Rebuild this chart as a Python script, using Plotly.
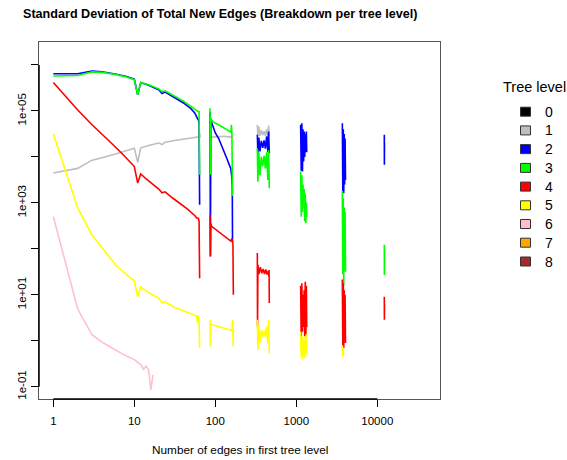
import plotly.graph_objects as go

# ---------------- data ----------------
level_names = ["0", "1", "2", "3", "4", "5", "6", "7", "8"]
level_colors = ["#000000", "#BEBEBE", "#0000FF", "#00FF00", "#FF0000",
                "#FFFF00", "#FFC0CB", "#FFA500", "#A52A2A"]

x_ticks = [1, 10, 100, 1000, 10000]
x_tick_text = ["1", "10", "100", "1000", "10000"]
y_ticks = [0.1, 1, 10, 100, 1000, 1e4, 1e5, 1e6]
y_tick_text = ["1e-01", "", "1e+01", "", "1e+03", "", "1e+05", ""]

# shared x positions of the noisy clusters
seg3_x = [330, 335, 345, 355, 370, 385, 400, 415, 430, 445, 455, 464]
seg4_x = [1130, 1150, 1170, 1190, 1210, 1230, 1250, 1270, 1290, 1310, 1330, 1345]
seg5_x = [3700, 3750, 3800, 3850, 3900, 3950, 4000, 4050]
seg6_x = [12200, 12230, 12260]

# level 1 (gray)
lvl1_seg1_x = [1, 2, 3, 4, 6, 8, 10, 11, 12, 15, 20, 22, 24, 30, 40, 50, 60, 63, 64, 65]
lvl1_seg1_y = [4470, 5620, 8510, 9550, 11700, 13500, 15500, 7590, 15800, 17800, 20000,
               18600, 20900, 22400, 24500, 26300, 26900, 27500, 33900, 26300]
lvl1_seg2_x = [86, 87, 90, 110, 130, 150, 160, 165]
lvl1_seg2_y = [56200, 28200, 26900, 27500, 28200, 26900, 28200, 27500]
lvl1_seg3_y = [50100, 28200, 45700, 28800, 38000, 29500, 36300, 28800, 39800, 28200, 47900, 28800]

# level 2 (blue)
lvl2_seg1_x = [1, 2, 3, 4, 6, 8, 10, 11, 12, 15, 20, 22, 24, 30, 40, 50, 56, 60, 62, 63, 64]
lvl2_seg1_y = [646000, 646000, 741000, 708000, 631000, 562000, 490000, 224000, 417000,
               363000, 288000, 240000, 257000, 200000, 151000, 112000, 89100, 69200,
               63100, 52500, 912]
lvl2_seg2_x = [86, 87, 88, 90, 95, 100, 110, 120, 130, 140, 150, 155, 160, 162, 163]
lvl2_seg2_y = [95500, 70.8, 63100, 56200, 39800, 33100, 25100, 17800, 12000, 8910, 6460,
               5620, 3550, 2140, 141]
lvl2_seg3_y = [30200, 12000, 26300, 13200, 22400, 15800, 22900, 15100, 28200, 12600, 35500, 12000]
lvl2_seg4_y = [50100, 5010, 53700, 4790, 39800, 7940, 35500, 10000, 31600, 12600, 35500, 12600]
lvl2_seg5_y = [53700, 1780, 39800, 1620, 31600, 2510, 25100, 3160]
lvl2_seg6_y = [30200, 6760, 20000]

# level 3 (green)
lvl3_seg1_x = [1, 2, 3, 4, 6, 8, 10, 11, 12, 15, 20, 22, 24, 30, 40, 50, 56, 60, 62, 63, 64]
lvl3_seg1_y = [575000, 589000, 708000, 692000, 617000, 550000, 479000, 224000, 417000,
               372000, 302000, 263000, 275000, 224000, 166000, 126000, 107000, 100000,
               95500, 100000, 4070]
lvl3_seg2_x = [86, 87, 88, 90, 95, 100, 110, 130, 150, 156, 158, 160, 163]
lvl3_seg2_y = [115000, 4070, 70800, 63100, 57500, 53700, 50100, 41700, 36300, 34700,
               50100, 36300, 1410]
lvl3_seg3_y = [15500, 2880, 12600, 3980, 10000, 6310, 10500, 5620, 12600, 3160, 14100, 2090]
lvl3_seg4_y = [4790, 501, 3980, 631, 2510, 794, 2000, 398, 1580, 363, 1000, 501]
lvl3_seg5_y = [1780, 28.2, 1260, 15.8, 794, 39.8, 631, 31.6]
lvl3_seg6_y = [123, 26.9, 79.4]

# level 4 (red)
lvl4_seg1_x = [1, 2, 3, 4, 5, 7, 10, 11, 12, 14, 20, 22, 24, 30, 37, 45, 56, 59, 62, 63, 64]
lvl4_seg1_y = [417000, 105000, 50100, 31600, 21400, 12000, 6170, 2690, 4270, 3310, 2000,
               1660, 1740, 1260, 977, 741, 525, 468, 457, 398, 22.9]
lvl4_seg2_x = [86, 87, 88, 90, 100, 110, 130, 144, 155, 160, 165, 167]
lvl4_seg2_y = [550, 67.6, 355, 309, 269, 234, 186, 170, 148, 166, 126, 10.0]
lvl4_seg3_x = [330, 332, 336, 345, 360, 375, 390, 405, 420, 435, 450, 458, 461, 464]
lvl4_seg3_y = [81.3, 2.04, 44.7, 28.2, 39.8, 29.5, 36.3, 28.2, 35.5, 27.5, 33.1, 25.1, 34.7, 6.61]
lvl4_seg4_y = [15.8, 1.00, 17.8, 1.58, 10.0, 2.00, 12.6, 1.26, 19.1, 0.955, 15.8, 2.00]
lvl4_seg5_y = [21.4, 0.794, 17.8, 0.692, 12.6, 1.00, 10.0, 0.891]
lvl4_seg6_y = [9.12, 2.88, 6.31]

# level 5 (yellow)
lvl5_seg1_x = [1, 2, 3, 4, 5, 6, 8, 10, 11, 12, 15, 20, 22, 24, 30, 40, 50, 59, 60, 61, 62, 63, 64]
lvl5_seg1_y = [31600, 776, 200, 105, 63.1, 42.7, 27.5, 20.0, 9.12, 14.8, 11.2, 8.51, 6.61,
               7.08, 5.50, 4.57, 3.89, 3.39, 2.51, 3.55, 2.95, 2.63, 0.708]
lvl5_seg2_x = [86, 87, 88, 90, 110, 130, 150, 160, 164, 165, 166, 167]
lvl5_seg2_y = [2.88, 0.759, 2.40, 2.24, 2.04, 1.91, 1.74, 1.66, 2.88, 1.58, 0.759, 2.00]
lvl5_seg3_y = [2.88, 0.631, 2.24, 0.891, 1.74, 1.23, 1.66, 1.20, 2.00, 0.891, 2.88, 0.537]
lvl5_seg4_y = [1.58, 0.447, 1.26, 0.389, 1.12, 0.501, 1.00, 0.417, 1.26, 0.562, 1.41, 0.501]
lvl5_seg5_y = [0.759, 0.457, 0.708, 0.501]

# level 6 (pink)
lvl6_x = [1, 2, 3, 4, 5, 6, 7, 8, 9, 10, 11, 12, 13, 14, 15, 16, 17]
lvl6_y = [501, 4.90, 1.35, 0.933, 0.741, 0.603, 0.525, 0.468, 0.427, 0.389, 0.339,
          0.302, 0.240, 0.282, 0.234, 0.0851, 0.182]


def join(pairs):
    xs, ys = [], []
    for i, (sx, sy) in enumerate(pairs):
        if i:
            xs.append(None)
            ys.append(None)
        xs += list(sx[:len(sy)])
        ys += list(sy)
    return xs, ys


series = {
    1: join([(lvl1_seg1_x, lvl1_seg1_y), (lvl1_seg2_x, lvl1_seg2_y), (seg3_x, lvl1_seg3_y)]),
    2: join([(lvl2_seg1_x, lvl2_seg1_y), (lvl2_seg2_x, lvl2_seg2_y), (seg3_x, lvl2_seg3_y),
             (seg4_x, lvl2_seg4_y), (seg5_x, lvl2_seg5_y), (seg6_x, lvl2_seg6_y)]),
    3: join([(lvl3_seg1_x, lvl3_seg1_y), (lvl3_seg2_x, lvl3_seg2_y), (seg3_x, lvl3_seg3_y),
             (seg4_x, lvl3_seg4_y), (seg5_x, lvl3_seg5_y), (seg6_x, lvl3_seg6_y)]),
    4: join([(lvl4_seg1_x, lvl4_seg1_y), (lvl4_seg2_x, lvl4_seg2_y), (lvl4_seg3_x, lvl4_seg3_y),
             (seg4_x, lvl4_seg4_y), (seg5_x, lvl4_seg5_y), (seg6_x, lvl4_seg6_y)]),
    5: join([(lvl5_seg1_x, lvl5_seg1_y), (lvl5_seg2_x, lvl5_seg2_y), (seg3_x, lvl5_seg3_y),
             (seg4_x, lvl5_seg4_y), (seg5_x, lvl5_seg5_y)]),
    6: (lvl6_x, lvl6_y),
}

# ---------------- figure ----------------
W, H = 567, 460
L, R, T, B = 39, 440, 42, 399
X_RANGE = [-0.177, 4.774]
Y_RANGE = [-1.267, 6.5]
FONT = "Liberation Sans, Arial, sans-serif"

fig = go.Figure()
for lvl in range(1, 7):
    xs, ys = series[lvl]
    fig.add_trace(go.Scatter(x=xs, y=ys, mode="lines", name=level_names[lvl],
                             line=dict(color=level_colors[lvl], width=1.6),
                             connectgaps=False, showlegend=False, hoverinfo="skip"))


def px2paper_x(px):
    return (px - L) / (R - L)


def px2paper_y(py):
    return (B - py) / (B - T)


shapes = []
annotations = []

# R-style axis lines spanning first to last tick
def frac(v, rng):
    return (v - rng[0]) / (rng[1] - rng[0])

shapes.append(dict(type="line", xref="paper", yref="paper", x0=0, x1=0,
                   y0=frac(-1, Y_RANGE), y1=frac(6, Y_RANGE),
                   line=dict(color="#000000", width=1.5)))
shapes.append(dict(type="line", xref="paper", yref="paper", y0=0, y1=0,
                   x0=frac(0, X_RANGE), x1=frac(4, X_RANGE),
                   line=dict(color="#000000", width=1.5)))

# legend (drawn manually, R style)
leg_y = [111.7, 130.4, 149.1, 167.9, 186.6, 205.3, 224.0, 242.7, 261.5]
for i, name in enumerate(level_names):
    cy = leg_y[i]
    shapes.append(dict(type="rect", xref="paper", yref="paper",
                       x0=px2paper_x(520.5), x1=px2paper_x(530.5),
                       y0=px2paper_y(cy + 4.5), y1=px2paper_y(cy - 4.5),
                       fillcolor=level_colors[i], line=dict(color="#333333", width=1)))
    annotations.append(dict(text=name, xref="paper", yref="paper",
                            x=px2paper_x(549), y=px2paper_y(cy), xanchor="center",
                            yanchor="middle", showarrow=False,
                            font=dict(family=FONT, size=14, color="#000000")))
annotations.append(dict(text="Tree level", xref="paper", yref="paper",
                        x=px2paper_x(534.5), y=px2paper_y(87), xanchor="center",
                        yanchor="middle", showarrow=False,
                        font=dict(family=FONT, size=14.5, color="#000000")))
# title
annotations.append(dict(text="<b>Standard Deviation of Total New Edges (Breakdown per tree level)</b>",
                        xref="paper", yref="paper", x=px2paper_x(220), y=px2paper_y(14),
                        xanchor="center", yanchor="middle", showarrow=False,
                        font=dict(family=FONT, size=12.6, color="#000000")))
# x axis title
annotations.append(dict(text="Number of edges in first tree level",
                        xref="paper", yref="paper", x=px2paper_x(239.5), y=px2paper_y(450),
                        xanchor="center", yanchor="middle", showarrow=False,
                        font=dict(family=FONT, size=11.8, color="#000000")))

fig.update_layout(
    width=W, height=H,
    margin=dict(l=L, r=W - R, t=T, b=H - B, pad=0),
    paper_bgcolor="white", plot_bgcolor="white",
    showlegend=False,
    shapes=shapes, annotations=annotations,
    font=dict(family=FONT, size=11.5, color="#000000"),
    xaxis=dict(type="log", range=X_RANGE, tickvals=x_ticks, ticktext=x_tick_text,
               showgrid=False, zeroline=False, showline=True, mirror=True,
               linecolor="#555555", linewidth=1, ticks="outside", ticklen=7,
               tickwidth=1, tickcolor="#000000", ticklabelstandoff=4,
               tickfont=dict(family=FONT, size=11.5, color="#000000")),
    yaxis=dict(type="log", range=Y_RANGE, tickvals=y_ticks, ticktext=y_tick_text,
               showgrid=False, zeroline=False, showline=True, mirror=True,
               linecolor="#555555", linewidth=1, ticks="outside", ticklen=7,
               tickwidth=1, tickcolor="#000000", tickangle=-90,
               tickfont=dict(family=FONT, size=11.5, color="#000000")),
)

fig.write_html("out.html")
